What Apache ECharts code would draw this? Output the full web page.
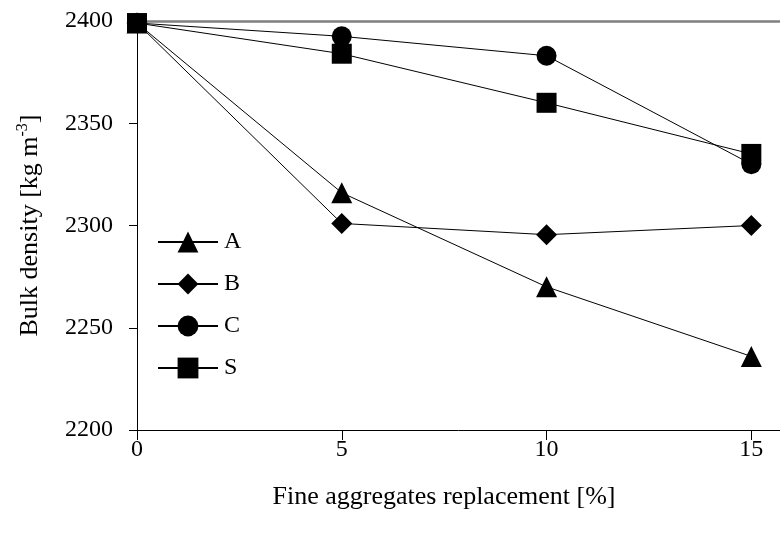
<!DOCTYPE html>
<html>
<head>
<meta charset="utf-8">
<script src="https://cdn.jsdelivr.net/npm/echarts@6/dist/echarts.min.js"></script>
<style>
  html, body { margin: 0; padding: 0; background: #fff; }
  #chart { width: 780px; height: 540px; }
</style>
</head>
<body>
<div id="chart"></div>
<script>
// replacement levels [%]
var replacement = [0, 5, 10, 15]
// bulk density [kg m-3] per aggregate type
var seriesA = [2399, 2316, 2270, 2236]
var seriesB = [2399, 2301, 2295.5, 2300]
var seriesC = [2399, 2392.5, 2383, 2330]
var seriesS = [2399, 2384, 2360, 2335]
var seriesNames = ['A', 'B', 'C', 'S']
var xTicks = [0, 5, 10, 15]
var yTicks = [2200, 2250, 2300, 2350, 2400]

var font = 'Liberation Serif'

function pairs(vals) {
    return replacement.map(function(x, i) { return [x, vals[i]] })
}

function makeSeries(name, vals, symbol, size) {
    return {
        name: name,
        type: 'line',
        data: pairs(vals),
        symbol: symbol,
        symbolSize: size,
        color: '#000',
        itemStyle: { color: '#000' },
        lineStyle: { color: '#000', width: 1 },
        emphasis: { disabled: true }
    }
}

var myChart = echarts.init(document.getElementById('chart'))

var option = {
    animation: false,
    backgroundColor: '#fff',
    textStyle: { fontFamily: font, color: '#000' },
    grid: { left: 137, top: 21, right: 0, bottom: 110 },
    legend: {
        orient: 'vertical',
        left: 152,
        top: 225,
        itemWidth: 60,
        itemHeight: 26,
        itemGap: 18,
        data: seriesNames,
        textStyle: { fontFamily: font, fontSize: 24, color: '#000', padding: [0, 0, 0, 1] }
    },
    xAxis: [
        {
            type: 'value',
            min: 0,
            max: 15.7,
            axisLine: { lineStyle: { color: '#000', width: 1 } },
            axisTick: { show: true, inside: false, length: 10, customValues: xTicks, lineStyle: { color: '#000' } },
            axisLabel: { fontFamily: font, fontSize: 24, color: '#000', margin: 8, customValues: xTicks },
            splitLine: { show: false }
        },
        {
            type: 'value',
            position: 'top',
            min: 0,
            max: 15.7,
            axisLine: { show: true, lineStyle: { color: '#808080', width: 2.5 } },
            axisTick: { show: false },
            axisLabel: { show: false },
            splitLine: { show: false }
        }
    ],
    yAxis: {
        type: 'value',
        min: yTicks[0],
        max: yTicks[yTicks.length - 1],
        interval: 50,
        name: 'Bulk density [kg m{sup|-3}]',
        nameLocation: 'middle',
        nameGap: 92,
        nameTextStyle: {
            fontFamily: font, fontSize: 26, color: '#000',
            rich: { sup: { fontFamily: font, fontSize: 16, color: '#000', padding: [0, 0, 14, 0] } }
        },
        axisLine: { show: true, lineStyle: { color: '#000', width: 1 } },
        axisTick: { show: true, length: 8, lineStyle: { color: '#000' } },
        axisLabel: {
            fontFamily: font, fontSize: 24, color: '#000', margin: 24,
            formatter: function(v) { return String(v) }
        },
        splitLine: { show: false }
    },
    graphic: [
        {
            type: 'text',
            x: 444,
            y: 497,
            style: {
                text: 'Fine aggregates replacement [%]',
                font: '26px "Liberation Serif"',
                fill: '#000',
                align: 'center',
                verticalAlign: 'middle'
            }
        }
    ],
    series: [
        makeSeries('A', seriesA, 'triangle', 21),
        makeSeries('B', seriesB, 'diamond', 21),
        makeSeries('C', seriesC, 'circle', 20),
        makeSeries('S', seriesS, 'rect', 20)
    ]
}

myChart.setOption(option)
window.addEventListener('resize', function() {
    myChart.resize()
})
</script>
</body>
</html>
